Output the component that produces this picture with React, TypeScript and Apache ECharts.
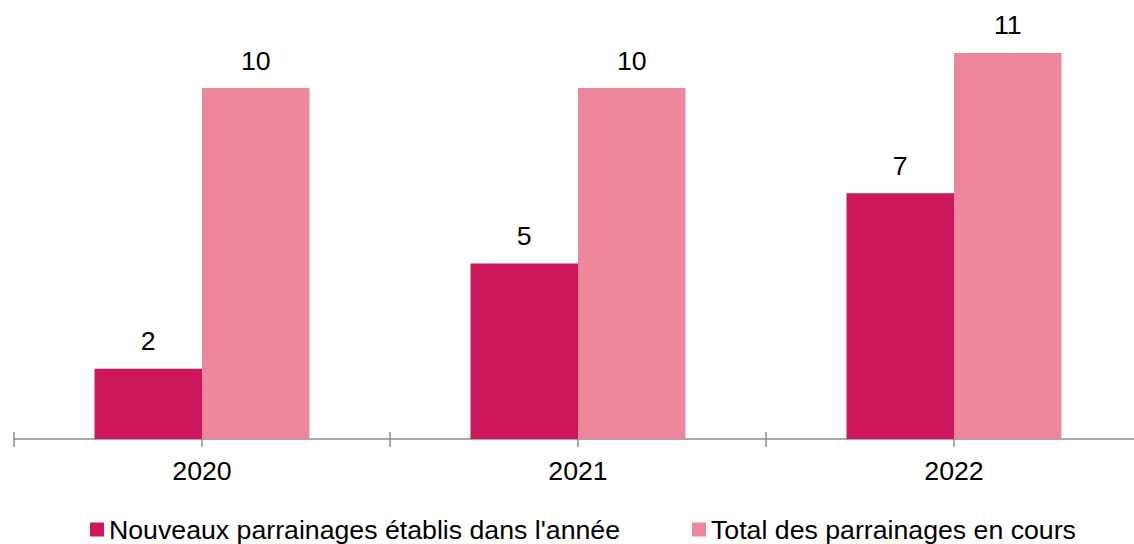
import React, { useEffect, useRef } from "react";
import * as echarts from "echarts";

const categories = ["2020", "2021", "2022"];
const seriesNames = ["Nouveaux parrainages établis dans l'année", "Total des parrainages en cours"];
const nouveaux = [2, 5, 7];
const total = [10, 10, 11];

export default function App() {
  const ref = useRef<HTMLDivElement>(null);
  useEffect(() => {
    if (!ref.current) return;
    const chart = echarts.init(ref.current, null, { renderer: "svg" });
    const font = "Liberation Sans, Arial, sans-serif";
    const axisColor = "#8c8c8c";
    const fs = 26.7;
    const legendCommon = {
      top: 516,
      padding: 0,
      itemWidth: 14,
      itemHeight: 14,
      icon: "rect",
      textStyle: { fontSize: fs, color: "#000", fontFamily: font },
    };
    chart.setOption({
      animation: false,
      textStyle: { fontFamily: font },
      grid: { left: 14, right: 0, top: 17.8, bottom: 105 },
      legend: [
        { ...legendCommon, left: 90, data: [seriesNames[0]] },
        { ...legendCommon, left: 692, data: [seriesNames[1]] },
      ],
      xAxis: [
        {
          type: "category",
          data: categories,
          axisLine: { lineStyle: { color: axisColor, width: 1.5 } },
          axisTick: { show: true, alignWithLabel: true, length: 8, lineStyle: { color: axisColor, width: 1.5 } },
          axisLabel: { fontSize: fs, color: "#000", margin: 18, fontFamily: font },
        },
        {
          type: "category",
          data: categories,
          position: "bottom",
          axisLine: { show: false },
          axisTick: { show: true, length: 8, lineStyle: { color: axisColor, width: 1.5 } },
          axisLabel: { show: false },
        },
        {
          type: "category",
          data: categories,
          position: "bottom",
          axisLine: { show: false },
          axisTick: { show: true, inside: true, length: 7, lineStyle: { color: axisColor, width: 1.5 } },
          axisLabel: { show: false },
        },
      ],
      yAxis: {
        type: "value",
        min: 0,
        max: 12,
        show: false,
        splitLine: { show: false },
      },
      series: [
        {
          name: seriesNames[0],
          type: "bar",
          data: nouveaux,
          barWidth: 107.5,
          barGap: "0%",
          itemStyle: { color: "#cc175a" },
          label: { show: true, position: "top", distance: 14, fontSize: fs, color: "#000", fontFamily: font },
        },
        {
          name: seriesNames[1],
          type: "bar",
          data: total,
          barWidth: 107.5,
          barGap: "0%",
          itemStyle: { color: "#ed879b" },
          label: { show: true, position: "top", distance: 14, fontSize: fs, color: "#000", fontFamily: font },
        },
      ],
    });
    return () => chart.dispose();
  }, []);
  return (
    <div style={{ position: "absolute", left: 0, top: 0, width: 1134, height: 544, overflow: "hidden" }}>
      <div ref={ref} style={{ width: 1142, height: 544 }} />
    </div>
  );
}
